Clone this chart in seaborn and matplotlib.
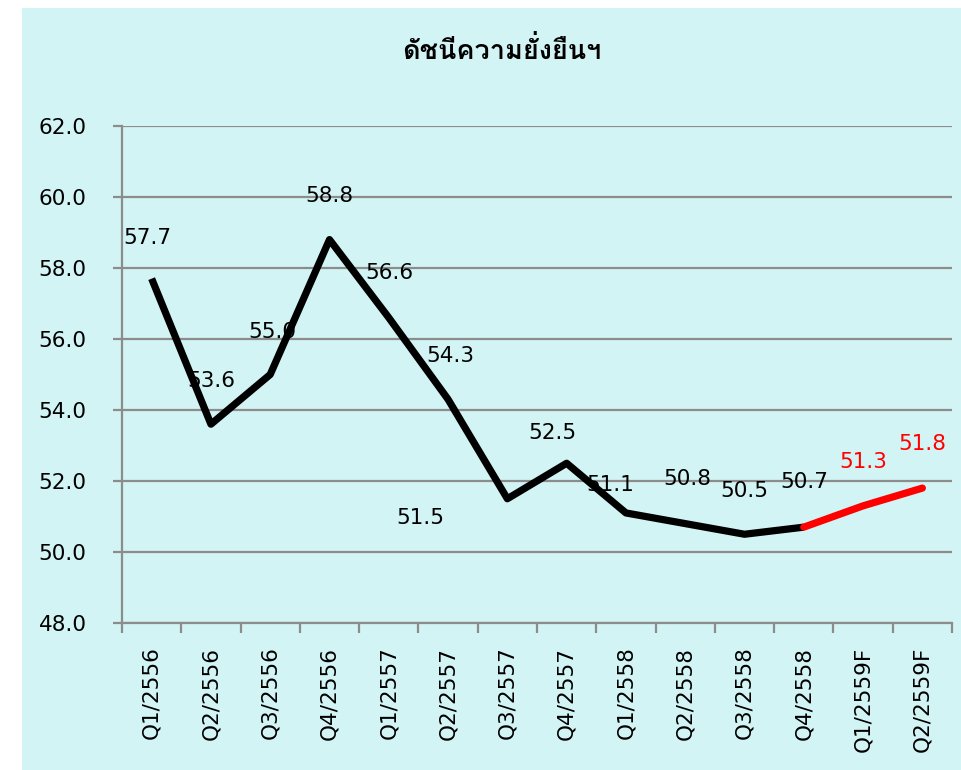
import matplotlib
matplotlib.use("Agg")
import matplotlib.pyplot as plt
from matplotlib import font_manager, ft2font
from matplotlib.patches import Rectangle
import seaborn as sns

# --- Datos ---
trimestres = ['Q1/2556', 'Q2/2556', 'Q3/2556', 'Q4/2556',
              'Q1/2557', 'Q2/2557', 'Q3/2557', 'Q4/2557',
              'Q1/2558', 'Q2/2558', 'Q3/2558', 'Q4/2558',
              'Q1/2559F', 'Q2/2559F']
valores = [57.7, 53.6, 55.0, 58.8, 56.6, 54.3, 51.5, 52.5,
           51.1, 50.8, 50.5, 50.7, 51.3, 51.8]
n_real = 12  # los dos ultimos son pronostico
titulo = 'ดัชนีความยั่งยืนฯ'

# desplazamiento de las etiquetas (pixeles)
desplaz = [(-4, 41), (0, 43), (2, 43), (0, 44), (1, 45), (2, 43), (-87, -19),
           (-14, 30), (-16, 28), (2, 45), (0, 43), (1, 45), (0, 44), (0, 44)]

# buscar una fuente con glifos tailandeses
fuente_thai = None
for f in font_manager.fontManager.ttflist:
    try:
        if 0x0E14 in ft2font.FT2Font(f.fname).get_charmap():
            fuente_thai = f.name
            break
    except Exception:
        continue
familia_titulo = [fuente_thai, 'DejaVu Sans'] if fuente_thai else ['DejaVu Sans']

sns.set_theme(style="white")
plt.rcParams['font.family'] = ['DejaVu Sans']
plt.rcParams['text.color'] = 'black'

fondo = '#d3f4f5'
gris = '#8c8c8c'

fig = plt.figure(figsize=(9.62, 7.70), dpi=100, facecolor='white')
fig.patches.append(Rectangle((22 / 962, 0), 940 / 962, 762 / 770,
                             transform=fig.transFigure, facecolor=fondo,
                             edgecolor='none', zorder=-10))
ax = fig.add_axes([122 / 962, 1 - 623 / 770, 830 / 962, (623 - 126) / 770])
ax.set_facecolor('none')

pos = list(range(len(trimestres)))
sns.lineplot(x=pos[:n_real], y=valores[:n_real], color='black', linewidth=5.2,
             ax=ax, zorder=5, solid_capstyle='butt')
sns.lineplot(x=pos[n_real - 1:], y=valores[n_real - 1:], color='#ff0000',
             linewidth=5.2, ax=ax, zorder=5, solid_capstyle='round')

for i, v in enumerate(valores):
    col = 'black' if i < n_real else '#ff0000'
    ax.annotate(f'{v:.1f}', (pos[i], v), xytext=desplaz[i],
                textcoords='offset pixels', ha='center', va='center',
                fontsize=15.5, color=col, zorder=3)

ax.set_xlim(-0.5, len(trimestres) - 0.5)
ax.set_ylim(48, 62)
ax.set_yticks(range(48, 63, 2))
ax.set_yticklabels([f'{t:.1f}' for t in range(48, 63, 2)])
ax.set_xticks(pos)
ax.set_xticklabels(trimestres, rotation=90)
ax.set_xticks([p - 0.5 for p in pos] + [len(pos) - 0.5], minor=True)

ax.grid(axis='y', color=gris, linewidth=1.6)
ax.set_axisbelow(True)
for s in ['top', 'right']:
    ax.spines[s].set_visible(False)
for s in ['left', 'bottom']:
    ax.spines[s].set_color(gris)
    ax.spines[s].set_linewidth(1.6)

ax.tick_params(axis='y', which='major', left=True, length=6.5, width=1.6,
               color=gris, pad=19, labelsize=15.5, labelcolor='black')
ax.tick_params(axis='x', which='major', bottom=False, length=0, pad=17,
               labelsize=15.5, labelcolor='black')
ax.tick_params(axis='x', which='minor', bottom=True, length=7, width=1.6,
               color=gris)
ax.set_xlabel('')
ax.set_ylabel('')

fig.text(502 / 962, 1 - 50 / 770, titulo, ha='center', va='center',
         fontsize=19.5, fontweight='bold', family=familia_titulo, color='black')

fig.savefig('out.png', dpi=100, facecolor='white')
